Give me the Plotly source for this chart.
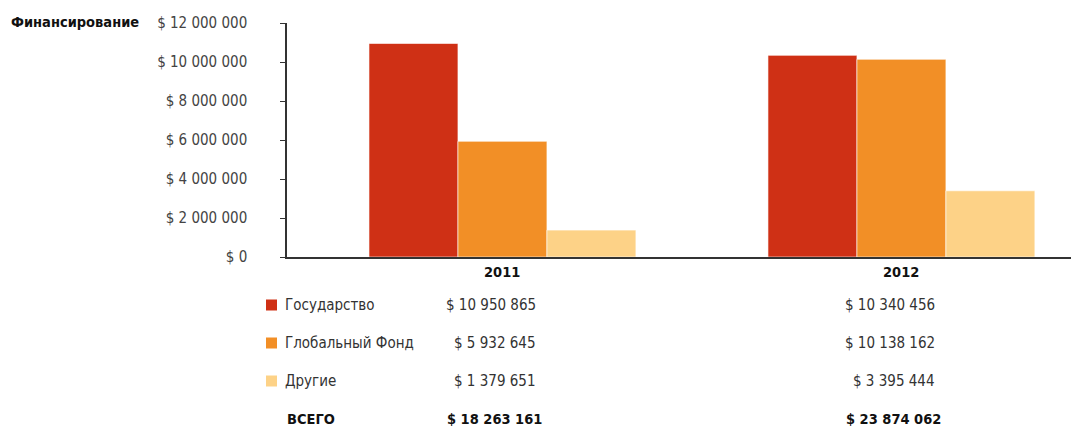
import plotly.graph_objects as go

years = ["2011", "2012"]
series_names = ["Государство", "Глобальный Фонд", "Другие"]
gov = [10950865, 10340456]
global_fund = [5932645, 10138162]
others = [1379651, 3395444]
total_label = "ВСЕГО"
y_title = "Финансирование"
y_ticks = [0, 2000000, 4000000, 6000000, 8000000, 10000000, 12000000]

colors = ["#CF3015", "#F28F26", "#FDD287"]
series_values = [gov, global_fund, others]

W, H = 1071, 429
L, R, T, B = 287, 0, 23, 172
plot_h = H - T - B

FONT = "DejaVu Sans Condensed"
REG = 15
BOLD = 14.5


def fmt(v):
    return "$ " + f"{v:,}".replace(",", " ")


def py2paper(py):
    return (H - B - py) / plot_h


xs = list(range(len(years)))
fig = go.Figure()
for name, vals, col in zip(series_names, series_values, colors):
    fig.add_trace(go.Bar(
        x=xs, y=vals, name=name, marker=dict(color=col, line=dict(color="rgba(255,255,255,0.6)", width=1)),
        showlegend=False, hoverinfo="skip",
    ))

ann = []
shapes = []
for i, yr in enumerate(years):
    ann.append(dict(x=i, y=py2paper(272), xref="x", yref="paper", text="<b>" + yr + "</b>",
                    showarrow=False, xanchor="center", yanchor="middle",
                    font=dict(family=FONT, size=BOLD, color="#111")))
row_py = [305, 343, 381]
for r, (name, vals, col) in enumerate(zip(series_names, series_values, colors)):
    py = row_py[r]
    shapes.append(dict(type="rect", xref="paper", yref="paper",
                       x0=(266 - L) / (W - L - R), x1=(277 - L) / (W - L - R),
                       y0=py2paper(py + 5.5), y1=py2paper(py - 5.5),
                       fillcolor=col, line=dict(width=0)))
    ann.append(dict(x=(283 - L) / (W - L - R), y=py2paper(py), xref="paper", yref="paper",
                    text=name, showarrow=False, xanchor="left", yanchor="middle",
                    font=dict(family=FONT, size=REG, color="#333")))
    for i, v in enumerate(vals):
        ann.append(dict(x=i + 0.088, y=py2paper(py), xref="x", yref="paper",
                        text=fmt(v), showarrow=False, xanchor="right", yanchor="middle",
                        font=dict(family=FONT, size=REG, color="#333")))
ann.append(dict(x=(285 - L) / (W - L - R), y=py2paper(419), xref="paper", yref="paper",
                text="<b>" + total_label + "</b>", showarrow=False, xanchor="left", yanchor="middle",
                font=dict(family=FONT, size=BOLD, color="#111")))
for i in range(len(years)):
    tot = sum(s[i] for s in series_values)
    ann.append(dict(x=i + 0.103, y=py2paper(419), xref="x", yref="paper",
                    text="<b>" + fmt(tot) + "</b>", showarrow=False, xanchor="right", yanchor="middle",
                    font=dict(family=FONT, size=BOLD, color="#111")))
ann.append(dict(x=(9 - L) / (W - L - R), y=py2paper(22), xref="paper", yref="paper",
                text="<b>" + y_title + "</b>", showarrow=False, xanchor="left", yanchor="middle",
                font=dict(family=FONT, size=BOLD, color="#111")))

fig.update_layout(
    width=W, height=H,
    margin=dict(l=L, r=R, t=T, b=B, pad=0),
    paper_bgcolor="white", plot_bgcolor="white",
    barmode="group", bargap=0.331, bargroupgap=0,
    annotations=ann, shapes=shapes,
    xaxis=dict(range=[-0.540, 1.425], showticklabels=False, showgrid=False, zeroline=False,
               showline=True, linecolor="#333", linewidth=2, ticks=""),
    yaxis=dict(range=[0, 12000000], tickvals=y_ticks, ticktext=[fmt(v) for v in y_ticks],
               showgrid=False, zeroline=False, showline=True, linecolor="#333", linewidth=1.5,
               ticks="outside", ticklen=5, tickcolor="#333", ticklabelstandoff=30,
               tickfont=dict(family=FONT, size=REG, color="#444")),
)
fig.write_html("out.html")
